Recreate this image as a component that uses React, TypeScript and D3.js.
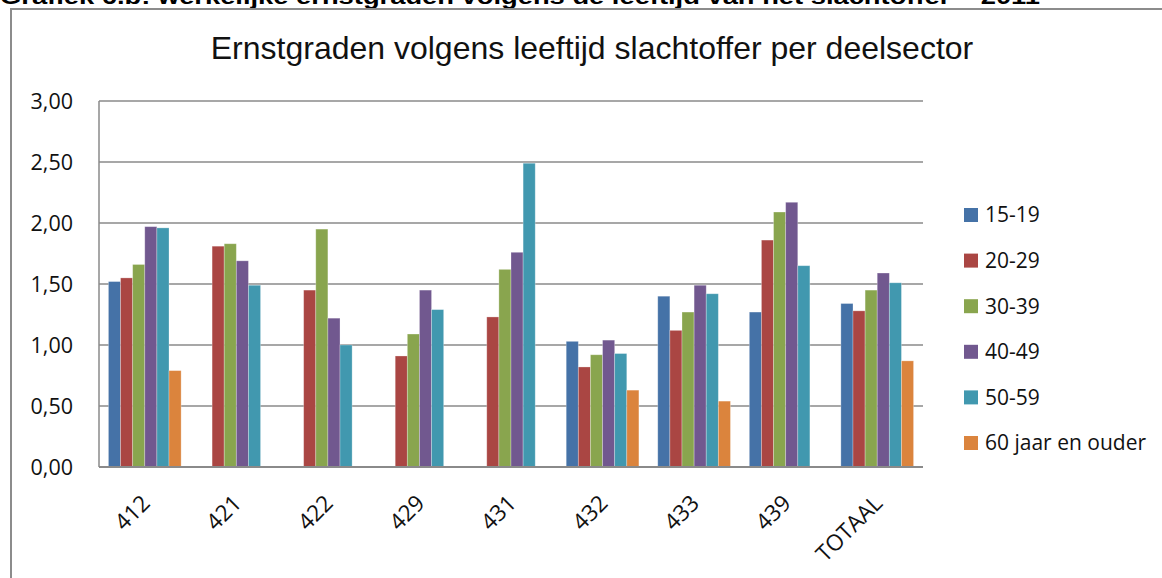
import React, { useEffect, useRef } from "react";
import * as d3 from "d3";

const sectors = ["412", "421", "422", "429", "431", "432", "433", "439", "TOTAAL"];
const ageGroups = ["15-19", "20-29", "30-39", "40-49", "50-59", "60 jaar en ouder"];
const colors = ["#4572A7", "#AA4643", "#89A54E", "#71588F", "#4198AF", "#DB843D"];

// null = geen waarde voor die leeftijdsgroep
const v1519 = [1.52, null, null, null, null, 1.03, 1.40, 1.27, 1.34];
const v2029 = [1.55, 1.81, 1.45, 0.91, 1.23, 0.82, 1.12, 1.86, 1.28];
const v3039 = [1.66, 1.83, 1.95, 1.09, 1.62, 0.92, 1.27, 2.09, 1.45];
const v4049 = [1.97, 1.69, 1.22, 1.45, 1.76, 1.04, 1.49, 2.17, 1.59];
const v5059 = [1.96, 1.49, 1.00, 1.29, 2.49, 0.93, 1.42, 1.65, 1.51];
const v60plus = [0.79, null, null, null, null, 0.63, 0.54, null, 0.87];

const yTicks = [0, 0.5, 1, 1.5, 2, 2.5, 3];

const series = [v1519, v2029, v3039, v4049, v5059, v60plus];

export default function App() {
    const svgRef = useRef<SVGSVGElement>(null);

    useEffect(() => {
        const svg = d3.select(svgRef.current);
        const width = 1162;
        const height = 578;
        const margin = { top: 101, right: 239, bottom: 111, left: 99 };

        svg.attr("width", width).attr("height", height);
        svg.selectAll("*").remove();

        svg.append("rect").attr("width", width).attr("height", height).attr("fill", "#fff");

        // kop van het document (afgesneden, zoals in het origineel)
        svg
            .append("text")
            .attr("x", 0)
            .attr("y", 4)
            .attr("textLength", 1040)
            .attr("lengthAdjust", "spacingAndGlyphs")
            .style("font-family", "Liberation Sans, Arial, sans-serif")
            .style("font-weight", "bold")
            .style("font-size", "22px")
            .text("Grafiek 6.b: werkelijke ernstgraden volgens de leeftijd van het slachtoffer – 2011");

        // kader van de grafiek
        svg
            .append("rect")
            .attr("x", 11)
            .attr("y", 9)
            .attr("width", width + 20)
            .attr("height", height + 20)
            .attr("fill", "none")
            .attr("stroke", "#8c8c8c")
            .attr("stroke-width", 2);

        // titel
        svg
            .append("text")
            .attr("x", 592)
            .attr("y", 59)
            .attr("text-anchor", "middle")
            .style("font-family", "Liberation Sans, Arial, sans-serif")
            .style("font-size", "32px")
            .attr("fill", "#111")
            .text("Ernstgraden volgens leeftijd slachtoffer per deelsector");

        const x0 = d3
            .scaleBand()
            .domain(sectors)
            .range([margin.left, width - margin.right])
            .paddingInner(0.206)
            .paddingOuter(0.103);

        const x1 = d3.scaleBand().domain(ageGroups).range([0, x0.bandwidth()]);

        const y = d3.scaleLinear().domain([0, 3]).range([height - margin.bottom, margin.top]);

        // rasterlijnen
        svg
            .append("g")
            .selectAll("line")
            .data(yTicks.slice(1))
            .join("line")
            .attr("x1", margin.left)
            .attr("x2", width - margin.right)
            .attr("y1", (d) => y(d))
            .attr("y2", (d) => y(d))
            .attr("stroke", "#8a8a8a")
            .attr("stroke-width", 1.5);

        // y-as labels
        svg
            .append("g")
            .selectAll("text")
            .data(yTicks)
            .join("text")
            .attr("x", 73)
            .attr("y", (d) => y(d))
            .attr("dy", "0.35em")
            .attr("text-anchor", "end")
            .style("font-family", "Open Sans, sans-serif")
            .style("font-size", "21.5px")
            .attr("fill", "#111")
            .text((d) => d3.format(".2f")(d).replace(".", ","));

        // staven
        const groups = svg
            .append("g")
            .selectAll("g")
            .data(sectors)
            .join("g")
            .attr("transform", (d) => `translate(${x0(d)},0)`);

        groups
            .selectAll("rect")
            .data((_, i) => series.map((s, k) => ({ key: ageGroups[k], value: s[i], color: colors[k] })))
            .join("rect")
            .filter((d) => d.value != null)
            .attr("x", (d) => x1(d.key)!)
            .attr("y", (d) => y(d.value as number))
            .attr("width", x1.bandwidth())
            .attr("height", (d) => y(0) - y(d.value as number))
            .attr("fill", (d) => d.color)
            .attr("stroke", "#ffffff")
            .attr("stroke-opacity", 0.35)
            .attr("stroke-width", 0.8);

        // assen
        svg
            .append("line")
            .attr("x1", margin.left)
            .attr("x2", margin.left)
            .attr("y1", margin.top)
            .attr("y2", y(0))
            .attr("stroke", "#8a8a8a")
            .attr("stroke-width", 1.5);
        svg
            .append("line")
            .attr("x1", margin.left)
            .attr("x2", width - margin.right)
            .attr("y1", y(0))
            .attr("y2", y(0))
            .attr("stroke", "#8a8a8a")
            .attr("stroke-width", 2);

        // x-as labels
        svg
            .append("g")
            .selectAll("text")
            .data(sectors)
            .join("text")
            .attr("transform", (d) => `translate(${x0(d)! + x0.bandwidth() / 2 + 1},${y(0) + 32}) rotate(-45)`)
            .attr("text-anchor", "end")
            .attr("dy", "0.35em")
            .style("font-family", "Open Sans, sans-serif")
            .style("font-size", "22.5px")
            .attr("fill", "#111")
            .text((d) => d);

        // legenda
        const legend = svg.append("g").attr("transform", "translate(964,215)");
        ageGroups.forEach((g, i) => {
            legend
                .append("rect")
                .attr("x", 0)
                .attr("y", i * 45.6 - 7)
                .attr("width", 14)
                .attr("height", 14)
                .attr("fill", colors[i]);
            legend
                .append("text")
                .attr("x", 21)
                .attr("y", i * 45.6)
                .attr("dy", "0.35em")
                .style("font-family", "Open Sans, sans-serif")
                .style("font-size", "21px")
                .attr("fill", "#111")
                .text(g);
        });
    }, []);

    return <svg ref={svgRef} style={{ position: "fixed", left: 0, top: 0, display: "block" }}></svg>;
}
